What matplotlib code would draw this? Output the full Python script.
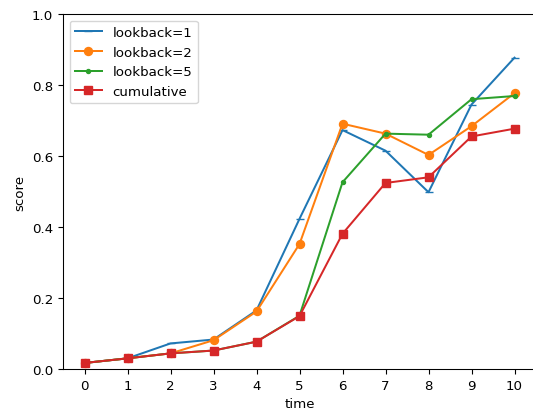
import numpy as np
import matplotlib
matplotlib.use("Agg")
import matplotlib.pyplot as plt

# -------------------------------
# Scores over time for each lookback setting
# -------------------------------
time = list(range(11))
lookback_1 = [0.017, 0.030, 0.072, 0.083, 0.165, 0.423, 0.673, 0.615, 0.498, 0.745, 0.877]
lookback_2 = [0.017, 0.030, 0.044, 0.081, 0.162, 0.352, 0.691, 0.663, 0.603, 0.684, 0.777]
lookback_5 = [0.017, 0.030, 0.044, 0.052, 0.077, 0.150, 0.526, 0.663, 0.660, 0.760, 0.769]
cumulative = [0.017, 0.030, 0.044, 0.052, 0.077, 0.149, 0.381, 0.524, 0.540, 0.655, 0.677]

# scale a bit down, the reference looks like it was saved at ~96 dpi
s = 0.96
plt.rcParams["font.size"] = 10 * s

fig = plt.figure(figsize=(5.33, 4.14), dpi=100)
ax = fig.add_axes([63 / 533, 44 / 414, 473 / 533, 355 / 414])

ax.plot(time, lookback_1, marker="_", color="tab:blue", lw=1.5 * s, ms=6 * s, label="lookback=1")
ax.plot(time, lookback_2, marker="o", color="tab:orange", lw=1.5 * s, ms=6 * s, label="lookback=2")
ax.plot(time, lookback_5, marker=".", color="tab:green", lw=1.5 * s, ms=6 * s, label="lookback=5")
ax.plot(time, cumulative, marker="s", color="tab:red", lw=1.5 * s, ms=6 * s, label="cumulative")

ax.set_xlim(-0.5, 10.5)
ax.set_ylim(0, 1.0)
ax.set_xticks(time)
ax.set_xlabel("time")
ax.set_ylabel("score")
ax.legend(loc="upper left")

for sp in ax.spines.values():
    sp.set_linewidth(0.8 * s)

fig.savefig("out.png", dpi=100)
